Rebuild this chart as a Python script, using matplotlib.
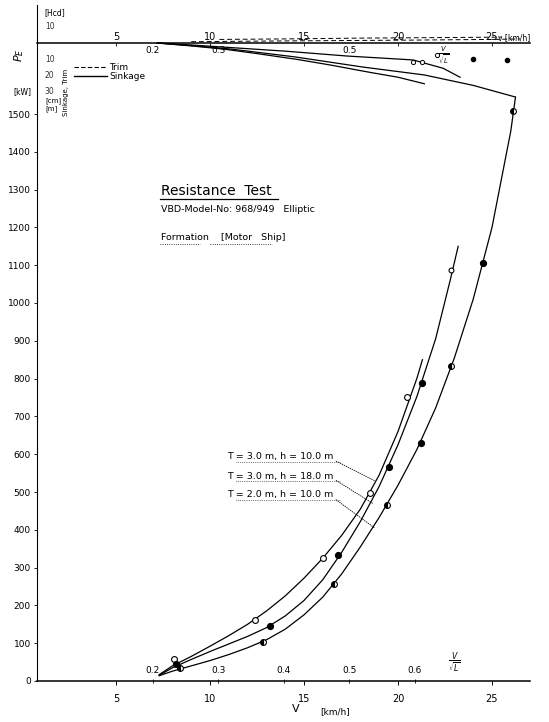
import matplotlib
matplotlib.use("Agg")
import matplotlib.pyplot as plt
from matplotlib.lines import Line2D
from matplotlib.transforms import blended_transform_factory

W, H = 549, 722

# ---------------- data ----------------
FN_FACTOR = 34.8  # V [km/h] per unit of V/sqrt(L)

# Resistance curves: speed V [km/h] and effective power P_E [kW]
curve_a_v = [7.3, 8.0, 9.0, 10.0, 11.0, 12.0, 13.0, 14.0, 15.0, 16.0, 17.0, 18.0, 19.0, 20.0, 21.0, 21.3]
curve_a_p = [17, 40, 65, 92, 120, 150, 185, 225, 272, 325, 385, 455, 545, 660, 800, 850]
curve_b_v = [7.3, 8.0, 9.0, 10.0, 11.0, 12.0, 13.0, 14.0, 15.0, 16.0, 17.0, 18.0, 19.0, 20.0, 21.0, 22.0, 22.8, 23.2]
curve_b_p = [15, 35, 57, 78, 98, 118, 141, 172, 213, 268, 340, 422, 515, 625, 752, 905, 1065, 1150]
curve_c_v = [7.3, 8.0, 9.0, 10.0, 11.0, 12.0, 13.0, 14.0, 15.0, 16.0, 17.0, 18.0, 19.0, 20.0, 21.0, 22.0, 23.0, 24.0, 25.0, 26.0, 26.25]
curve_c_p = [14, 26, 40, 54, 70, 88, 109, 137, 175, 222, 283, 355, 433, 518, 612, 722, 855, 1010, 1200, 1455, 1545]

# measured points
pts_a_v = [8.1, 12.4, 16.0, 18.5, 20.5]
pts_a_p = [58, 161, 325, 497, 751]
pts_b_v = [8.2, 13.2, 16.8, 19.5, 21.3]
pts_b_p = [45, 146, 333, 566, 788]
pts_b_open_v = [22.8]
pts_b_open_p = [1087]
pts_c_half_v = [8.4, 12.8, 16.6, 19.4, 22.8, 26.1]
pts_c_half_p = [34, 103, 257, 466, 833, 1508]
pts_c_full_v = [21.2, 24.5]
pts_c_full_p = [630, 1106]

curve_labels = ["T = 3.0 m, h = 10.0 m", "T = 3.0 m, h = 18.0 m", "T = 2.0 m, h = 10.0 m"]
leader_v = [18.75, 18.65, 18.75]
leader_p = [530, 470, 405]

# Sinkage [cm] (positive downward) and trim, top panel
sink_a_v = [7.2, 9.0, 10.7, 14.0, 17.3, 19.5, 20.8, 22.4, 23.3]
sink_a_s = [0, 1.2, 2.5, 5.0, 8.0, 9.5, 10.4, 15.5, 21.0]
sink_b_v = [7.2, 9.0, 10.7, 12.5, 14.6, 16.4, 18.5, 20.0, 21.4]
sink_b_s = [0, 1.8, 3.7, 6.5, 10.0, 13.5, 18.0, 21.0, 25.0]
sink_c_v = [7.2, 9.0, 11.1, 14.5, 18.1, 21.4, 24.0, 26.2]
sink_c_s = [0, 1.6, 3.7, 8.5, 14.7, 19.6, 26.0, 33.0]
trim_a_v = [9.0, 13.0, 17.0, 21.0, 25.0, 26.5]
trim_a_s = [-0.8, -1.2, -1.5, -1.8, -2.2, -2.5]
trim_b_v = [10.5, 14.0, 18.0, 22.0, 25.5]
trim_b_s = [-2.2, -2.5, -3.0, -3.3, -3.6]
sink_open_v = [20.8, 21.3, 22.1]
sink_open_s = [11.5, 11.5, 7.4]
sink_full_v = [24.0, 25.8]
sink_full_s = [10.0, 10.5]

# ticks / scales
p_ticks = list(range(0, 1600, 100))
v_ticks = [5, 10, 15, 20, 25]
fn_ticks_bottom = [0.2, 0.3, 0.4, 0.5, 0.6]
fn_ticks_top = [0.2, 0.3, 0.5]
sink_scale = [-10, 10, 20, 30]


def v2fn(v):
    return v / FN_FACTOR


def fn2v(f):
    return f * FN_FACTOR


def fx(x):
    return x / W


def fy(y):
    return 1 - y / H


plt.rcParams["font.family"] = ["DejaVu Sans"]
fig = plt.figure(figsize=(W / 100, H / 100), dpi=100)

# pixel geometry of the drawing
X0, X1, Y0, YT = 37, 530, 681, 5
ZERO_Y = 43          # pixel row of the sinkage/trim zero line
SINK_PX = 1.63       # pixels per cm of sinkage
P_PX = 0.378         # pixels per kW
V_PX = 18.8          # pixels per km/h
V_AT0 = 22           # pixel x of V = 0

rect = [fx(X0), fy(Y0), (X1 - X0) / W, (Y0 - YT) / H]
ax = fig.add_axes(rect)
xlim = ((X0 - V_AT0) / V_PX, (X1 - V_AT0) / V_PX)
ax.set_xlim(*xlim)
ax.set_ylim(0, (Y0 - YT) / P_PX)
ax.patch.set_visible(False)
for s in ["top", "right"]:
    ax.spines[s].set_visible(False)
ax.spines["left"].set_linewidth(0.8)
ax.spines["bottom"].set_linewidth(1.1)

ax.set_yticks(p_ticks)
ax.tick_params(axis="y", direction="out", length=2.5, width=0.6, pad=2, labelsize=6.5)
ax.set_xticks(v_ticks)
ax.tick_params(axis="x", direction="out", length=3, width=0.7, pad=6, labelsize=7)

lw = 0.9
ax.plot(curve_a_v, curve_a_p, color="black", lw=lw)
ax.plot(curve_b_v, curve_b_p, color="black", lw=lw)
ax.plot(curve_c_v, curve_c_p, color="black", lw=lw)
ms = 4.2
ax.plot(pts_a_v, pts_a_p, "o", ms=ms, mfc="white", mec="black", mew=0.8)
ax.plot(pts_b_v, pts_b_p, "o", ms=ms, mfc="black", mec="black")
ax.plot(pts_b_open_v, pts_b_open_p, "o", ms=3.5, mfc="white", mec="black", mew=0.8)
ax.plot(pts_c_half_v, pts_c_half_p, "o", ms=ms, mfc="black", mec="black",
        fillstyle="left", markerfacecoloralt="white", mew=0.8)
ax.plot(pts_c_full_v, pts_c_full_p, "o", ms=ms, mfc="black", mec="black")

# V/sqrt(L) scale along the bottom axis
sec_b = ax.secondary_xaxis(0.0, functions=(v2fn, fn2v))
sec_b.set_xticks(fn_ticks_bottom, labels=[f"{t:.1f}" for t in fn_ticks_bottom])
sec_b.tick_params(axis="x", top=True, labeltop=True, bottom=False, labelbottom=False,
                  direction="inout", length=3, width=0.6, pad=3, labelsize=6.5)
for s in sec_b.spines.values():
    s.set_visible(False)
ax.text(fn2v(0.66), 12, r"$\frac{V}{\sqrt{L}}$", fontsize=8, ha="center", va="bottom")

# x label
ax.text((fx(296) - rect[0]) / rect[2], -0.042, "V", transform=ax.transAxes,
        fontsize=8, ha="center", va="center")
ax.text((fx(335) - rect[0]) / rect[2], -0.045, "[km/h]", transform=ax.transAxes,
        fontsize=6.5, ha="center", va="center")

# ---------------- top panel: sinkage & trim ----------------
ax2 = fig.add_axes(rect)
ax2.set_xlim(*xlim)
ax2.set_ylim((Y0 - ZERO_Y) / SINK_PX, -(ZERO_Y - YT) / SINK_PX)
ax2.set_axis_off()

zero_frac = (Y0 - ZERO_Y) / (Y0 - YT)
sec_t = ax.secondary_xaxis(zero_frac)
sec_t.set_xticks(v_ticks)
sec_t.tick_params(axis="x", direction="in", length=2, width=0.6, pad=0.5, labelsize=7)
for s in sec_t.spines.values():
    s.set_linewidth(1.1)

sec_tf = ax.secondary_xaxis(zero_frac, functions=(v2fn, fn2v))
sec_tf.set_xticks(fn_ticks_top, labels=[f"{t:.1f}" for t in fn_ticks_top])
sec_tf.tick_params(axis="x", top=False, labeltop=False, bottom=True, labelbottom=True,
                   direction="in", length=0, pad=2, labelsize=6.5)
for s in sec_tf.spines.values():
    s.set_visible(False)

ax2.plot(sink_a_v, sink_a_s, color="black", lw=lw)
ax2.plot(sink_b_v, sink_b_s, color="black", lw=lw)
ax2.plot(sink_c_v, sink_c_s, color="black", lw=lw)
ax2.plot(trim_a_v, trim_a_s, color="black", lw=0.7, ls=(0, (5, 3)))
ax2.plot(trim_b_v, trim_b_s, color="black", lw=0.7, ls=(0, (5, 3)))
ax2.plot(sink_open_v, sink_open_s, "o", ms=3, mfc="white", mec="black", mew=0.7)
ax2.plot(sink_full_v, sink_full_s, "o", ms=3, mfc="black", mec="black")
ax2.text(fn2v(0.645), 7.5, r"$\frac{V}{\sqrt{L}}$", fontsize=7, ha="center", va="center")
ax2.text(1.0, -0.8, "v [km/h]", transform=blended_transform_factory(ax2.transAxes, ax2.transData),
         fontsize=5.5, ha="right", va="bottom")

btr = blended_transform_factory(ax2.transAxes, ax2.transData)
for v in sink_scale:
    ax2.text(0.016, v, f"{abs(v)}", transform=btr, fontsize=5.5, ha="left", va="center", color="#333333")

ax2.legend(handles=[Line2D([], [], ls=(0, (4, 2)), color="black", lw=0.8),
                    Line2D([], [], color="black", lw=1.0)],
           labels=["Trim", "Sinkage"], loc="upper left",
           bbox_to_anchor=(fx(74), fy(63)), bbox_transform=fig.transFigure,
           frameon=False, fontsize=6.5, handlelength=3.6, labelspacing=0.05,
           borderpad=0, borderaxespad=0, handletextpad=0.3)

# ---------------- labels and texts ----------------
fig.text(fx(44), fy(13), "[Hcd]", fontsize=5.5, va="center", ha="left")
fig.text(fx(45), fy(101), "[cm]", fontsize=5, va="center", ha="left")
fig.text(fx(45), fy(109), "[m]", fontsize=5, va="center", ha="left")
fig.text(fx(66), fy(92), "Sinkage, Trim", fontsize=5, rotation=90, ha="center", va="center")
fig.text(fx(19), fy(55), r"$P_E$", fontsize=8, rotation=90, ha="center", va="center")
fig.text(fx(22), fy(92), "[kW]", fontsize=5.5, ha="center", va="center")

fig.text(fx(161), fy(191), "Resistance  Test", fontsize=10, ha="left", va="center")
fig.add_artist(Line2D([fx(160), fx(278)], [fy(199), fy(199)], color="black", lw=0.9,
                      transform=fig.transFigure))
fig.text(fx(161), fy(209), "VBD-Model-No: 968/949   Elliptic", fontsize=6.8, ha="left", va="center")
fig.text(fx(161), fy(238), "Formation    [Motor   Ship]", fontsize=6.8, ha="left", va="center")
fig.add_artist(Line2D([fx(160), fx(200)], [fy(244), fy(244)], color="black", lw=0.6, ls=":",
                      transform=fig.transFigure))
fig.add_artist(Line2D([fx(210), fx(272)], [fy(244), fy(244)], color="black", lw=0.6, ls=":",
                      transform=fig.transFigure))

label_rows = [457, 476, 495]
for text, row, tv, tp in zip(curve_labels, label_rows, leader_v, leader_p):
    ax.annotate(text, xy=(tv, tp), xycoords="data", xytext=(227, H - row), textcoords="figure pixels",
                fontsize=6.8, ha="left", va="center",
                arrowprops=dict(arrowstyle="-", lw=0.6, ls=":", color="black",
                                relpos=(1.0, 0.2), shrinkA=0, shrinkB=0))
    fig.add_artist(Line2D([fx(236), fx(340)], [fy(row + 5), fy(row + 5)], color="black",
                          lw=0.5, ls=":", transform=fig.transFigure))

fig.savefig("out.png", dpi=100)
